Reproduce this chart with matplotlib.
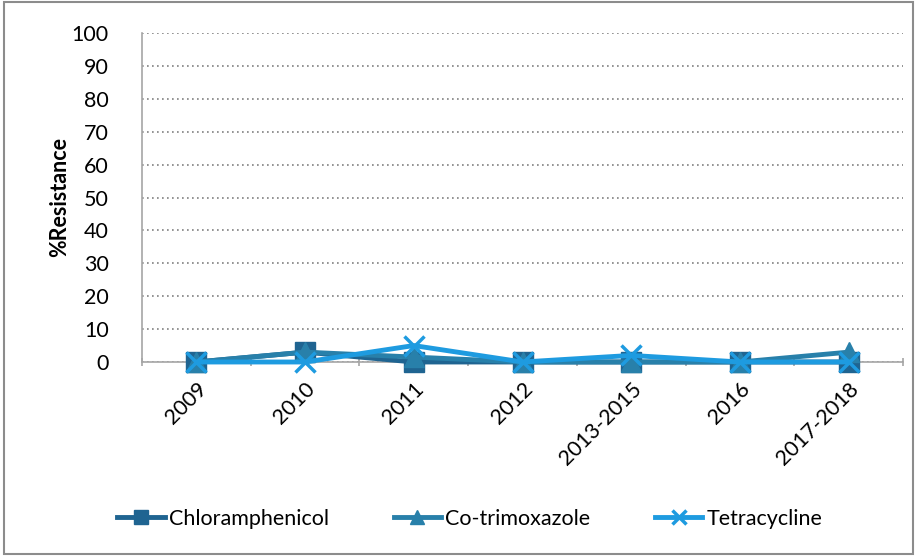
import matplotlib
matplotlib.use("Agg")
import matplotlib.pyplot as plt
from matplotlib.patches import Rectangle

# data
years = ["2009", "2010", "2011", "2012", "2013-2015", "2016", "2017-2018"]
chloramphenicol = [0, 3, 0, 0, 0, 0, 0]
cotrimoxazole = [0, 3, 1.5, 0, 0, 0, 3]
tetracycline = [0, 0, 5, 0, 2, 0, 0]
yticks = list(range(0, 101, 10))

plt.rcParams['font.family'] = ['Lato', 'DejaVu Sans']

fig = plt.figure(figsize=(9.17, 5.56), dpi=100)
ax = fig.add_axes([142/917, 1 - 362/556, (903-142)/917, (362-33)/556])

x = range(len(years))
ax.plot(x, chloramphenicol, color="#1F6491", lw=3.5, marker="s", ms=14, label="Chloramphenicol",
        zorder=3, clip_on=False)
ax.plot(x, cotrimoxazole, color="#2880AA", lw=3.5, marker="^", ms=14, label="Co-trimoxazole",
        zorder=4, clip_on=False)
ax.plot(x, tetracycline, color="#1E9BE0", lw=3.5, marker="x", ms=14, mew=2.5, label="Tetracycline",
        zorder=5, clip_on=False)

ax.set_xlim(-0.5, len(years) - 0.5)
ax.set_ylim(0, 100)
ax.set_yticks(yticks)
ax.set_yticklabels([str(v) for v in yticks], fontsize=15.5)
ax.set_xticks(list(x))
ax.set_xticklabels(years, rotation=45, ha="right", rotation_mode="anchor", fontsize=15.5)
ax.tick_params(axis="x", length=0, pad=12)
ax.tick_params(axis="y", length=0, pad=24)
# category boundary ticks
ax.set_xticks([i - 0.5 for i in range(len(years) + 1)], minor=True)
ax.tick_params(axis="x", which="minor", length=6, direction="inout", color="#A6A6A6", width=1.2)

ax.grid(axis="y", linestyle=(0, (1, 2)), color="#808080", lw=1.2)
ax.set_axisbelow(True)
for s in ["top", "right"]:
    ax.spines[s].set_visible(False)
ax.spines["left"].set_color("#A6A6A6")
ax.spines["bottom"].set_color("#A6A6A6")
ax.spines["left"].set_linewidth(1.2)
ax.spines["bottom"].set_linewidth(1.2)

fig.text(60/917, 1 - 197/556, "%Resistance", rotation=90, ha="center", va="center",
         fontsize=15.5, fontweight="bold")

fig.legend(loc="center", bbox_to_anchor=(470/917, 1 - 519/556), ncol=3, frameon=False,
           fontsize=15.5, handlelength=2.2, columnspacing=3.0, handletextpad=0.2, markerscale=0.75)

fig.patches.append(Rectangle((0.004, 0.004), 0.992, 0.992, transform=fig.transFigure,
                             fill=False, edgecolor="#8C8C8C", lw=1.5))

fig.savefig("out.png", dpi=100)
